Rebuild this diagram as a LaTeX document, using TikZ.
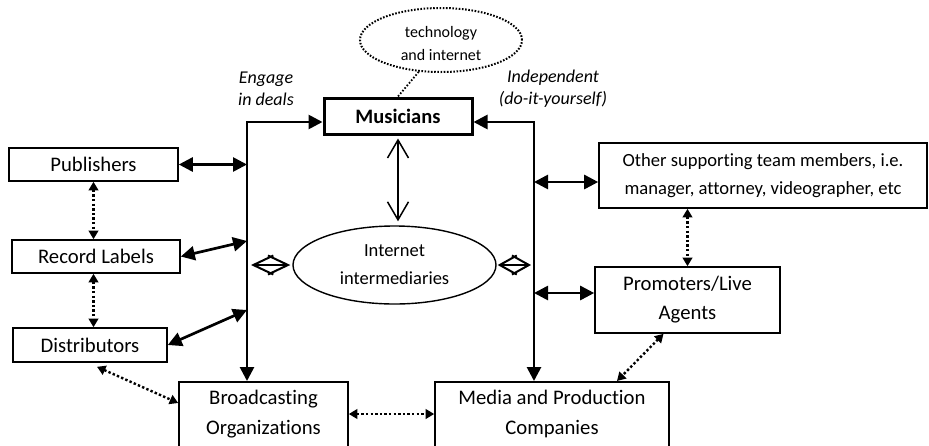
\documentclass[tikz,border=0pt]{standalone}
\usepackage{fontspec}
\setmainfont[Ligatures=NoCommon]{Carlito}
\usetikzlibrary{arrows.meta,shapes.geometric,calc}

\tikzset{
  BigTri/.tip={Triangle[length=14pt,width=14pt]},
  SmallTri/.tip={Triangle[length=8.5pt,width=9.5pt]},
  OpenV/.tip={Straight Barb[length=18pt,width=21pt]},
  box/.style={draw, rectangle, line width=1.6pt, inner sep=0pt, align=center,
    font=\fontsize{20.7}{29}\selectfont},
  boxtext/.style={inner sep=0pt, align=center, font=\fontsize{20.7}{30.5}\selectfont},
  flow/.style={line width=2.7pt, line join=miter},
  dots/.style={line width=2.4pt, dash pattern=on 2.4pt off 2.2pt, SmallTri-SmallTri},
  remark/.style={inner sep=0pt, align=center, font=\fontsize{18}{22}\selectfont\itshape},
}

\begin{document}
\begin{tikzpicture}[x=1pt,y=-1pt]
\useasboundingbox (0,0) rectangle (929,445);
\clip (0,0) rectangle (929,445);

% the two distribution channels framing the musicians
\coordinate (ltop) at (247,122);
\coordinate (rtop) at (534,122);
\coordinate (lrec) at (247,241);
\coordinate (ldist) at (247,310);
\coordinate (rother) at (534,182);
\coordinate (rprom) at (534,293);

% industry players, left side
\node[box, minimum width=169, minimum height=33] (pub) at (93.5,164.5) {Publishers};
\node[box, minimum width=168, minimum height=33] (rec) at (96,256.5) {Record Labels};
\node[box, minimum width=154, minimum height=34] (dist) at (90,345) {Distributors};

% musicians at the centre top
\node[box, line width=3pt, font=\fontsize{20.5}{24}\selectfont\bfseries,
      minimum width=148, minimum height=36] (mus) at (398,116) {Musicians};

% supporting players, right side
\node[box, minimum width=328, minimum height=65, font=\fontsize{18.6}{28}\selectfont]
  (other) at (763,175.5)
  {Other supporting team members, i.e.\\manager, attorney, videographer, etc};
\node[box, minimum width=185, minimum height=66] (prom) at (687.5,300) {Promoters/Live\\Agents};

% bottom boxes, running past the lower edge
\node[box, minimum width=169, minimum height=90, anchor=north] (broad) at (263.5,381) {};
\node[boxtext] (broadtxt) at (263.5,414) {Broadcasting\\Organizations};
\node[box, minimum width=234, minimum height=90, anchor=north] (media) at (552,381) {};
\node[boxtext] (mediatxt) at (552,414) {Media and Production\\Companies};

% ellipses
\node[draw, ellipse, line width=1.4pt, inner sep=0pt, minimum width=203, minimum height=78,
      align=center, font=\fontsize{18.5}{28}\selectfont] (inet) at (394.5,265)
  {Internet\\intermediaries};
\node[draw, ellipse, line width=2pt, dash pattern=on 1.6pt off 1.6pt, inner sep=0pt,
      minimum width=162, minimum height=64, align=center,
      font=\fontsize{16}{23}\selectfont] (tech) at (441,40)
  {\rule{0pt}{19pt}technology\\and internet};

% side remarks
\node[remark] (engage) at (266,89) {Engage\\in deals};
\node[remark] (indep) at (553,89) {Independent\\(do-it-yourself)};

% main channels
\draw[flow, BigTri-BigTri] (ltop -| mus.west) -- (ltop) -- (ltop |- broad.north);
\draw[flow, BigTri-BigTri] (rtop -| mus.east) -- (rtop) -- (rtop |- media.north);

% links into the channels
\draw[flow, BigTri-BigTri] (pub.east) -- (ltop |- pub.east);
\draw[flow, BigTri-BigTri] (rec.east) -- (lrec);
\draw[flow, BigTri-BigTri] (dist.east) -- (ldist);
\draw[flow, BigTri-BigTri] (rother) -- (rother -| other.west);
\draw[flow, BigTri-BigTri] (rprom) -- (rprom -| prom.west);

% musicians and internet intermediaries
\draw[line width=1.5pt, OpenV-OpenV, shorten <=3pt, shorten >=4pt]
  (mus.south) -- (mus.south |- inet.north);
\draw[line width=2pt, {Straight Barb[length=20pt,width=19pt]}-{Straight Barb[length=20pt,width=19pt]},
      shorten <=4pt, shorten >=2pt] (ltop |- inet.west) -- (inet.west);
\draw[line width=2pt, {Straight Barb[length=17pt,width=19pt]}-{Straight Barb[length=17pt,width=19pt]},
      shorten <=1pt, shorten >=3pt] (inet.east) -- (rtop |- inet.east);

% technology feeding the musicians
\draw[line width=1.8pt, dash pattern=on 1.6pt off 1.8pt] (tech.235) -- (mus.north);

% dotted cooperation links
\draw[dots] (pub.south) -- (pub.south |- rec.north);
\draw[dots] (pub.south |- rec.south) -- (pub.south |- dist.north);
\draw[dots] ($(dist.south)+(7,4)$) -- ($(broad.north west)+(0,22)$);
\draw[dots] ($(broad.north east)+(0,33)$) -- ($(media.north west)+(0,33)$);
\draw[dots] (prom.north |- other.south) -- (prom.north);
\draw[dots] ($(prom.south)+(-24,0)$) -- ($(media.north)+(65,0)$);
\end{tikzpicture}
\end{document}
